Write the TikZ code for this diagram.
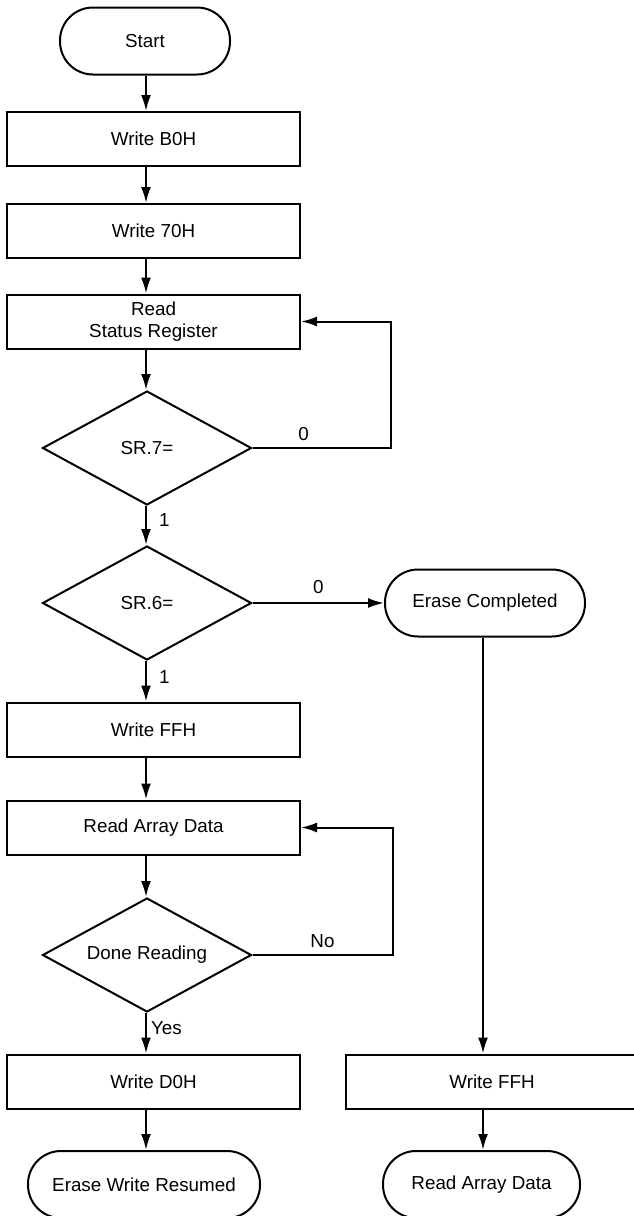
\documentclass[tikz,border=0pt]{standalone}
\usepackage{fontspec}
\setmainfont{Liberation Sans}
\usepackage{tikz}
\usetikzlibrary{arrows.meta,positioning,shapes.geometric}
\tikzset{
  base/.style={draw, line width=1pt, font=\fontsize{9.4}{11}\selectfont, inner sep=0pt, align=center},
  block/.style={base, rectangle, minimum width=146.5pt, minimum height=27pt},
  term/.style={base, rectangle, rounded corners=16.5pt, minimum height=33.5pt},
  decision/.style={base, diamond, aspect=1.83, minimum width=104.5pt, minimum height=57pt},
  arr/.style={line width=1pt, -{Latex[length=8pt,width=5pt]}},
  lbl/.style={font=\fontsize{9.4}{11}\selectfont, inner sep=2pt}
}

\begin{document}
\begin{tikzpicture}[x=0.5pt, y=-0.5pt]
\useasboundingbox (0,0) rectangle (633,1216);
\coordinate (col) at (146,0);
\coordinate (colb) at (483,0);
% left column
\node[term, minimum width=85pt] (start) at (145,41) {Start};
\node[block] (wb0) at (153.5,139) {Write B0H};
\node[block] (w70) at (153.5,231) {Write 70H};
\node[block] (rsr) at (153.5,321.5) {Read\\Status Register};
\node[decision] (sr7) at (147,448) {SR.7=};
\node[decision] (sr6) at (147,603) {SR.6=};
\node[block] (wff) at (153.5,729.5) {Write FFH};
\node[block] (rad) at (153.5,827.5) {Read Array Data};
\node[decision] (dr) at (147,955) {Done Reading};
\node[block] (wd0) at (153.5,1081.5) {Write D0H};
\node[term, minimum width=116pt] (ewr) at (144,1184.5) {Erase Write Resumed};
% right column
\node[term, minimum width=100pt] (ec) at (485,603) {Erase Completed};
\node[block] (wffb) at (492,1081.5) {Write FFH};
\node[term, minimum width=98.5pt] (radb) at (481.5,1184.5) {Read Array Data};

\foreach \a/\b in {start/wb0, wb0/w70, w70/rsr, rsr/sr7, wff/rad, rad/dr, wd0/ewr}
  \draw[arr] (\a.south -| col) -- (\b.north -| col);
\draw[arr] (sr7.south -| col) -- node[lbl, right=4pt, pos=.37]{1} (sr6.north -| col);
\draw[arr] (sr6.south -| col) -- node[lbl, right=4pt, pos=.4]{1} (wff.north -| col);
\draw[arr] (dr.south -| col) -- node[lbl, right=0pt, pos=.38]{Yes} (wd0.north -| col);
% loops back
\draw[arr] (sr7.east) -- node[lbl, above=1pt, pos=.37]{0} ++(138,0) |- (rsr.east);
\draw[arr] (dr.east) -- node[lbl, above=1pt, pos=.5]{No} ++(140,0) |- (rad.east);
\draw[arr] (sr6.east) -- node[lbl, above=2pt, pos=.5]{0} (ec.west);
\draw[arr] (ec.south -| colb) -- (wffb.north -| colb);
\draw[arr] (wffb.south -| colb) -- (radb.north -| colb);
\end{tikzpicture}
\end{document}
